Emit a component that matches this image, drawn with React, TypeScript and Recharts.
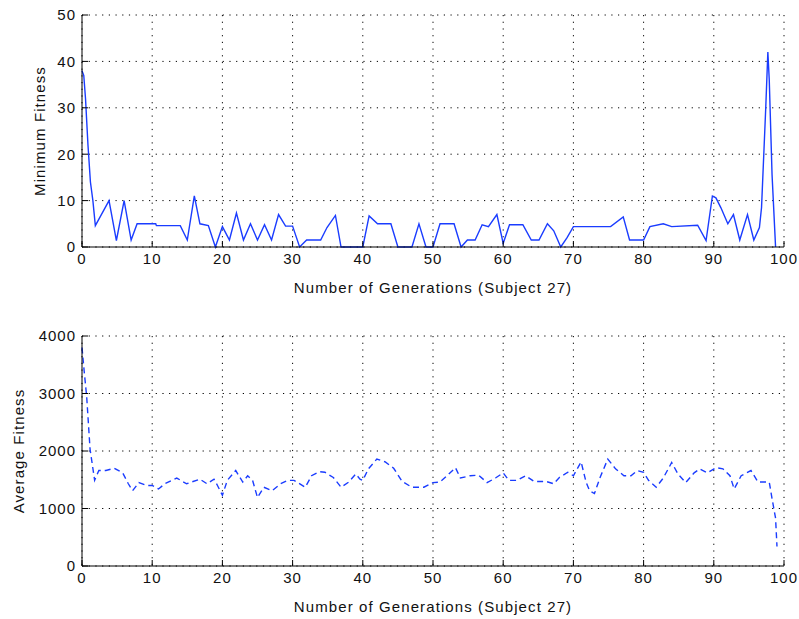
import { LineChart, Line, XAxis, YAxis, CartesianGrid } from 'recharts'

// generation positions and values
const minGen = [
  0, 0.25, 0.5, 0.85, 1.2, 1.55, 1.9, 3.85, 4.9, 6, 7, 7.85, 10.5, 10.6, 14, 15, 16, 16.8, 18, 19,
  20, 21, 22, 23, 24, 25, 26, 27, 28, 29, 30, 31, 32, 34, 34.9, 36.1, 36.9, 40, 40.9, 42.1,
  44, 45, 47, 48, 49, 50, 51, 53, 54, 54.9, 56, 57, 57.9, 59.1, 60, 60.9, 62.8, 64, 65.1, 66.3,
  67.2, 68.2, 69.1, 70, 75.3, 77.1, 78, 80, 80.9, 82.8, 84, 87.7, 88.9, 89.8, 90.3, 91, 92, 92.8, 93.7, 94.8,
  95.7, 96.5, 96.8, 97.4, 97.7, 97.9, 98.3, 98.8,
]
const minFitness = [
  38, 37, 32, 22, 14, 10, 4.6, 10, 1.4, 10, 1.5, 5, 5, 4.6, 4.6, 1.5, 11, 5, 4.6, 0,
  4.4, 1.5, 7.3, 1.5, 5, 1.5, 4.8, 1.5, 7, 4.5, 4.5, 0, 1.5, 1.5, 4.2, 6.8, 0, 0, 6.7, 5,
  5, 0, 0, 5, 0, 0, 5, 5, 0, 1.5, 1.5, 4.8, 4.4, 7, 0.8, 4.8, 4.8, 1.5, 1.5, 5,
  3.5, 0, 2, 4.4, 4.4, 6.5, 1.5, 1.5, 4.4, 5, 4.4, 4.7, 1.4, 11, 10.6, 8.5, 5, 7, 1.5, 7,
  1.5, 4.2, 8.5, 30, 42, 36, 15.5, 0,
]

const avgGen = [
  0, 0.3, 0.67, 1.15, 1.8, 2.4, 3.4, 4.6, 5.8, 6.6, 7.2, 8.1, 9.2, 10, 10.9, 11.8, 13.5, 14.9, 15.6, 16.8,
  17.8, 18.8, 19.3, 20, 20.7, 21.9, 22.9, 23.6, 24.3, 25, 25.9, 27.1, 28.3, 29.3, 30.2, 31.8, 32.7, 33.8, 34.6, 35.8,
  36.9, 38, 39, 39.6, 40, 40.8, 42, 43.2, 44.4, 45.6, 47, 48.7, 50, 51, 52, 53.2, 53.9, 55.3, 56.5, 57.7,
  58.9, 60, 60.8, 62, 63.2, 64.4, 66.1, 67.2, 68, 69.2, 70, 71.1, 71.8, 72.3, 73, 73.8, 74.9, 76, 77.2, 78.2,
  79.1, 80, 80.7, 81.8, 82.8, 84, 84.9, 86, 87.2, 88, 89.1, 90.3, 91.3, 92.3, 92.9, 93.9, 95.3, 96.3, 97.9, 98.3,
  98.8, 99,
]
const avgFitness = [
  3800, 3400, 2940, 2030, 1490, 1660, 1660, 1700, 1620, 1430, 1310, 1450, 1400, 1400, 1340, 1430, 1530, 1430, 1460, 1510,
  1430, 1510, 1400, 1230, 1490, 1660, 1460, 1570, 1490, 1190, 1370, 1310, 1430, 1490, 1490, 1370, 1570, 1640, 1630, 1540,
  1370, 1460, 1600, 1510, 1490, 1690, 1860, 1810, 1700, 1470, 1370, 1370, 1450, 1460, 1570, 1710, 1530, 1570, 1580, 1450,
  1530, 1620, 1490, 1490, 1570, 1470, 1470, 1430, 1540, 1630, 1570, 1810, 1460, 1310, 1260, 1540, 1860, 1690, 1570, 1570,
  1660, 1630, 1490, 1370, 1530, 1800, 1600, 1450, 1620, 1690, 1620, 1710, 1690, 1570, 1340, 1570, 1660, 1460, 1460, 1170,
  830, 340,
]

const xTicks = [0, 10, 20, 30, 40, 50, 60, 70, 80, 90, 100]
const minTicks = [0, 10, 20, 30, 40, 50]
const avgTicks = [0, 1000, 2000, 3000, 4000]

const minData = minGen.map((g, i) => ({ gen: g, value: minFitness[i] }))
const avgData = avgGen.map((g, i) => ({ gen: g, value: avgFitness[i] }))

const font = 'Liberation Sans, Arial, sans-serif'
const tickStyle = { fill: '#111', fontSize: 15, fontFamily: font, letterSpacing: 1 }
const titleStyle = { fill: '#111', fontSize: 15, fontFamily: font, letterSpacing: 1.1, textAnchor: 'middle' as const }
const blank = () => ''

function Panel({ data, ticks, max, yLabel, dashed, top, height, margin, yWidth, yLabelOffset }: any) {
  return (
    <div style={{ position: 'absolute', left: 0, top }}>
      <LineChart width={799} height={height} data={data} margin={margin}>
        <CartesianGrid stroke="#000" strokeDasharray="1.2 5.5" />
        <XAxis
          dataKey="gen"
          type="number"
          domain={[0, 100]}
          ticks={xTicks}
          interval={0}
          height={50}
          stroke="#000"
          tickSize={-6}
          tickMargin={12}
          tick={tickStyle}
          label={{ value: 'Number of Generations (Subject 27)', position: 'insideBottom', offset: 4, style: titleStyle }}
        />
        <XAxis xAxisId="top" orientation="top" type="number" domain={[0, 100]} ticks={xTicks} interval={0}
          height={0} stroke="#000" tickSize={-6} tickFormatter={blank} />
        <YAxis
          type="number"
          domain={[0, max]}
          ticks={ticks}
          interval={0}
          width={yWidth}
          stroke="#000"
          tickSize={-6}
          tickMargin={12}
          tick={tickStyle}
          label={{ value: yLabel, angle: -90, position: 'insideLeft', offset: yLabelOffset, style: titleStyle }}
        />
        <YAxis yAxisId="right" orientation="right" type="number" domain={[0, max]} ticks={ticks} interval={0}
          width={0} stroke="#000" tickSize={-6} tickFormatter={blank} />
        <Line
          type="linear"
          dataKey="value"
          stroke="#1a3cff"
          strokeWidth={1.4}
          strokeDasharray={dashed ? '6 4' : undefined}
          dot={false}
          isAnimationActive={false}
        />
      </LineChart>
    </div>
  )
}

export default function App() {
  return (
    <div style={{ position: 'absolute', left: 0, top: 0, width: 799, height: 619, background: '#fff' }}>
      <Panel
        data={minData}
        ticks={minTicks}
        max={50}
        yLabel="Minimum Fitness"
        dashed={false}
        top={0}
        height={300}
        yWidth={80}
        yLabelOffset={38}
        margin={{ top: 15, right: 15, left: 2, bottom: 3 }}
      />
      <Panel
        data={avgData}
        ticks={avgTicks}
        max={4000}
        yLabel="Average Fitness"
        dashed={true}
        top={300}
        height={319}
        yWidth={80}
        yLabelOffset={17}
        margin={{ top: 36, right: 15, left: 2, bottom: 3 }}
      />
    </div>
  )
}
